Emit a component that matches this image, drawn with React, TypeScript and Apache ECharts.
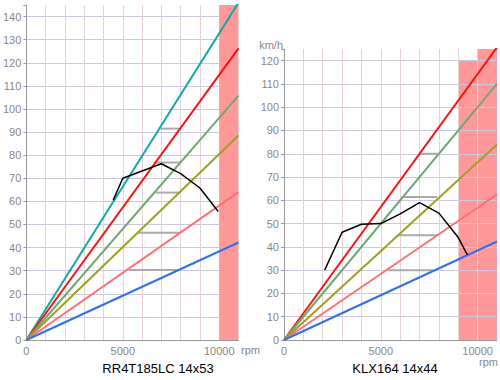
import React, { useEffect, useRef } from "react";
import * as echarts from "echarts";

// ---- data ----
const rpmMax = 11000;
const leftSpeedMax = 145;
const rightSpeedMax = 125;

const leftGearColors = ["#10a8a8", "#ff1010", "#70a870", "#a0a020", "#ff7070", "#3070f0"];
const leftGearSpeedAtMax = [146, 126.2, 105.8, 88.5, 64, 42.2];
const rightGearColors = ["#ff1010", "#70a870", "#a0a020", "#ff7070", "#3070f0"];
const rightGearSpeedAtMax = [125.7, 110, 84, 62.5, 42.3];

const leftCurveRpm = [4500, 5000, 7000, 8000, 9000, 9950];
const leftCurveSpeed = [60.5, 70, 76.3, 72, 65.8, 55.6];
const rightCurveRpm = [2100, 3000, 4000, 5000, 6000, 7000, 8000, 9000, 9470];
const rightCurveSpeed = [30, 46.3, 49.7, 50, 54.2, 59, 54.5, 44, 36.6];

const leftShiftFrom = [6940, 6650, 6730, 5790, 5330];
const leftShiftTo = [7930, 7930, 7930, 7930, 7930];
const leftShiftSpeed = [91.5, 76.8, 63.8, 46.4, 30.3];
const rightShiftFrom = [7000, 6070, 5880, 5380];
const rightShiftTo = [7930, 7900, 7900, 7690];
const rightShiftSpeed = [80, 61.4, 45, 30];

const leftZoneStart = [10000];
const leftZoneEnd = [11000];
const leftZoneTop = [145];
const rightZoneStart = [9000, 10000];
const rightZoneEnd = [10000, 11000];
const rightZoneTop = [120, 125];

const leftTitle = "RR4T185LC 14x53";
const rightTitle = "KLX164 14x44";

const FONT = "'Liberation Sans', Arial, sans-serif";

function xAxisFor(gridIndex: number, z: number) {
  return {
    type: "value",
    gridIndex,
    min: 0,
    max: rpmMax,
    interval: 1000,
    z,
    axisLine: { show: true, lineStyle: { color: "#999", width: 1 } },
    axisTick: { show: false },
    axisLabel: {
      color: "#888",
      fontSize: 11,
      fontFamily: FONT,
      margin: 5,
      formatter: (v: number) => (v % 5000 === 0 ? String(v) : ""),
    },
    splitLine: { show: true, showMaxLine: false, lineStyle: { color: "#e8d2da", width: 1 } },
  };
}

function yAxisFor(gridIndex: number, max: number, z: number) {
  return {
    type: "value",
    gridIndex,
    min: 0,
    max,
    interval: 10,
    z,
    axisLine: { show: true, lineStyle: { color: "#999", width: 1 } },
    axisTick: { show: true, length: 3, lineStyle: { color: "#999" } },
    axisLabel: {
      color: "#888",
      fontSize: 11,
      fontFamily: FONT,
      margin: 5,
      formatter: (v: number) => (v % 10 === 0 ? String(v) : ""),
    },
    splitLine: { show: true, showMaxLine: false, lineStyle: { color: "#cdc8e2", width: 1 } },
  };
}

function buildSeries(
  idx: number,
  colors: string[],
  gearTop: number[],
  curveRpm: number[],
  curveSpeed: number[],
  shiftFrom: number[],
  shiftTo: number[],
  shiftSpeed: number[],
  zoneStart: number[],
  zoneEnd: number[],
  zoneTop: number[]
) {
  const out: any[] = [];
  out.push({
    type: "line",
    xAxisIndex: idx,
    yAxisIndex: idx,
    data: [],
    silent: true,
    markArea: {
      silent: true,
      itemStyle: { color: "#ff9999" },
      label: { show: false },
      data: zoneStart.map((s, i) => [
        { xAxis: s, yAxis: 0 },
        { xAxis: zoneEnd[i], yAxis: zoneTop[i] },
      ]),
    },
  });
  shiftFrom.forEach((f, i) => {
    out.push({
      type: "line",
      xAxisIndex: idx,
      yAxisIndex: idx,
      silent: true,
      symbol: "none",
      data: [
        [f, shiftSpeed[i]],
        [shiftTo[i], shiftSpeed[i]],
      ],
      lineStyle: { color: "#aaaaaa", width: 2 },
    });
  });
  gearTop.forEach((v, i) => {
    out.push({
      type: "line",
      xAxisIndex: idx,
      yAxisIndex: idx,
      silent: true,
      symbol: "none",
      data: [
        [0, 0],
        [rpmMax, v],
      ],
      lineStyle: { color: colors[i], width: 2 },
    });
  });
  out.push({
    type: "line",
    xAxisIndex: idx,
    yAxisIndex: idx,
    silent: true,
    symbol: "none",
    data: curveRpm.map((r, i) => [r, curveSpeed[i]]),
    lineStyle: { color: "#000", width: 1.5 },
  });
  return out;
}

export default function App() {
  const ref = useRef<HTMLDivElement>(null);
  useEffect(() => {
    document.body.style.margin = "0";
    if (!ref.current) return;
    const chart = echarts.init(ref.current, undefined, { renderer: "svg" });
    const option: any = {
      animation: false,
      backgroundColor: "#fff",
      grid: [
        { left: 24, top: 5, width: 214.5, height: 335 },
        { left: 284, top: 49, width: 214.5, height: 291 },
      ],
      xAxis: [xAxisFor(0, 0), xAxisFor(1, 1.5)],
      yAxis: [yAxisFor(0, leftSpeedMax, 0), yAxisFor(1, rightSpeedMax, 1.5)],
      series: [
        ...buildSeries(
          0,
          leftGearColors,
          leftGearSpeedAtMax,
          leftCurveRpm,
          leftCurveSpeed,
          leftShiftFrom,
          leftShiftTo,
          leftShiftSpeed,
          leftZoneStart,
          leftZoneEnd,
          leftZoneTop
        ),
        ...buildSeries(
          1,
          rightGearColors,
          rightGearSpeedAtMax,
          rightCurveRpm,
          rightCurveSpeed,
          rightShiftFrom,
          rightShiftTo,
          rightShiftSpeed,
          rightZoneStart,
          rightZoneEnd,
          rightZoneTop
        ),
      ],
      graphic: [
        {
          type: "text",
          x: 158,
          y: 368,
          silent: true,
          style: { text: leftTitle, fill: "#000", fontSize: 13, fontFamily: FONT, align: "center", verticalAlign: "middle" },
        },
        {
          type: "text",
          x: 395,
          y: 368,
          silent: true,
          style: { text: rightTitle, fill: "#000", fontSize: 13, fontFamily: FONT, align: "center", verticalAlign: "middle" },
        },
        {
          type: "text",
          x: 241,
          y: 350,
          silent: true,
          style: { text: "rpm", fill: "#888", fontSize: 11, fontFamily: FONT, align: "left", verticalAlign: "middle" },
        },
        {
          type: "text",
          x: 498,
          y: 362,
          silent: true,
          style: { text: "rpm", fill: "#888", fontSize: 11, fontFamily: FONT, align: "right", verticalAlign: "middle" },
        },
        {
          type: "text",
          x: 283,
          y: 45,
          silent: true,
          style: { text: "km/h", fill: "#888", fontSize: 11, fontFamily: FONT, align: "right", verticalAlign: "middle" },
        },
      ],
    };
    chart.setOption(option);
    return () => chart.dispose();
  }, []);
  return <div ref={ref} style={{ width: 500, height: 380 }} />;
}
